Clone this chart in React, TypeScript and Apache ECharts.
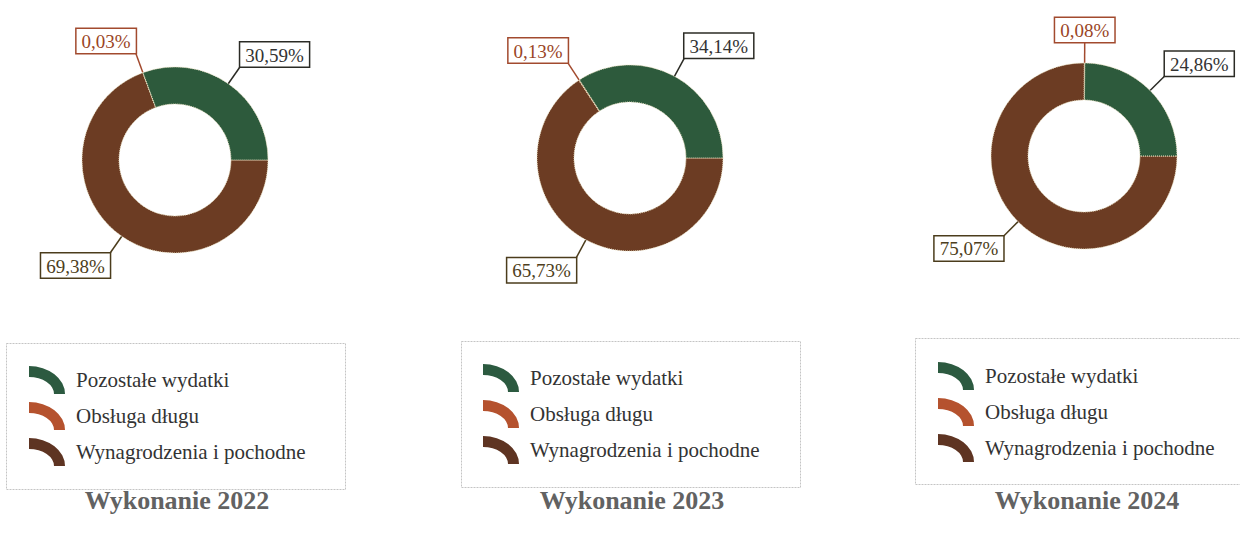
import React, { useEffect, useRef } from "react";
import * as echarts from "echarts";

const categories = ["Pozostałe wydatki", "Obsługa długu", "Wynagrodzenia i pochodne"];
const years = ["2022", "2023", "2024"];
const values2022 = [30.59, 0.03, 69.38];
const values2023 = [34.14, 0.13, 65.73];
const values2024 = [24.86, 0.08, 75.07];
const titlePrefix = "Wykonanie";

const sliceColors = ["#2d5a3c", "#b4532f", "#6c3c23"];
const legendColors = ["#2c5a40", "#b5522e", "#5e3422"];
const labelBorders = ["#2b2b25", "#a24a2e", "#4b3c1c"];
const labelTextColors = ["#333333", "#9a4526", "#4d3e20"];

const centers = [[175, 160], [630, 158], [1084, 156]];
const legendPos = [[29, 366], [483, 364], [938, 362]];
const boxPos = [[6, 343], [461, 341], [915, 338]];
const titleX = [177, 632, 1087];

const SERIF = "'Liberation Serif', 'DejaVu Serif', serif";

export default function App() {
  const ref = useRef<HTMLDivElement>(null);
  useEffect(() => {
    if (!ref.current) return;
    const chart = echarts.init(ref.current, undefined, { renderer: "svg" });
    const all = [values2022, values2023, values2024];
    // pie order clockwise from 3 o'clock: Wynagrodzenia, Obsługa, Pozostałe
    const order = [2, 1, 0];
    const series = all.map((vals, si) => ({
      type: "pie",
      center: centers[si],
      radius: [56, 93],
      startAngle: 0,
      clockwise: true,
      avoidLabelOverlap: false,
      itemStyle: { borderColor: "#efe6c6", borderWidth: 1, borderType: "dotted" },
      emphasis: { disabled: true },
      labelLine: { show: true, length: 21, length2: 0, smooth: false, lineStyle: { width: 1.5 } },
      label: {
        show: true,
        position: "outside",
        fontFamily: SERIF,
        fontSize: 19,
        backgroundColor: "#ffffff",
        borderWidth: 1.5,
        padding: [3, 5, 2, 5],
        formatter: (p: any) => p.value.toFixed(2).replace(".", ",") + "%",
      },
      labelLayout: (params: any) => {
        const pts = params.labelLinePoints;
        if (!pts) return {};
        const p0 = pts[0];
        const p1 = pts[1];
        const dx = p1[0] - p0[0];
        const dy = p1[1] - p0[1];
        const len = Math.sqrt(dx * dx + dy * dy) || 1;
        let align = "center";
        if (Math.abs(dx) > 0.25 * len) align = dx > 0 ? "left" : "right";
        let verticalAlign = "middle";
        if (Math.abs(dy) > 0.25 * len) verticalAlign = dy > 0 ? "top" : "bottom";
        return {
          x: p1[0],
          y: p1[1],
          align,
          verticalAlign,
          labelLinePoints: [p0, p1, p1],
        };
      },
      data: order.map((ci) => ({
        name: categories[ci],
        value: vals[ci],
        itemStyle: { color: sliceColors[ci] },
        label: {
          borderColor: labelBorders[ci],
          color: labelTextColors[ci],
        },
        labelLine: { lineStyle: { color: labelBorders[ci] } },
      })),
    }));

    const legend = legendPos.map((p) => ({
      left: p[0],
      top: p[1],
      orient: "vertical",
      padding: 0,
      itemGap: 8,
      itemWidth: 36,
      itemHeight: 28,
      selectedMode: false,
      symbolKeepAspect: false,
      icon: "path://M0,0 A36,28 0 0 1 36,28 L25,28 A25,17 0 0 0 0,11 Z",
      itemStyle: { borderWidth: 0 },
      data: categories.map((c, i) => ({
        name: c,
        itemStyle: { color: legendColors[i], borderWidth: 0 },
      })),
      textStyle: {
        fontFamily: SERIF,
        fontSize: 21,
        color: "#333333",
        padding: [0, 0, 0, 6],
      },
    }));

    const graphic: any[] = [];
    boxPos.forEach((b) => {
      graphic.push({
        type: "rect",
        shape: { x: b[0] + 0.5, y: b[1] + 0.5, width: 339, height: 146 },
        style: { fill: "none", stroke: "#c4c4c4", lineWidth: 1, lineDash: [2, 1] },
        silent: true,
      });
    });
    years.forEach((y, i) => {
      graphic.push({
        type: "text",
        x: titleX[i],
        y: 500,
        style: {
          text: titlePrefix + " " + y,
          fontFamily: SERIF,
          fontSize: 26,
          fontWeight: "bold",
          fill: "#626262",
          align: "center",
          verticalAlign: "middle",
        },
        silent: true,
      });
    });

    chart.setOption({
      animation: false,
      backgroundColor: "#ffffff",
      legend,
      graphic,
      series,
    } as any);
    return () => chart.dispose();
  }, []);
  return (
    <div
      ref={ref}
      style={{ position: "fixed", left: 0, top: 0, width: 1240, height: 540 }}
    />
  );
}
